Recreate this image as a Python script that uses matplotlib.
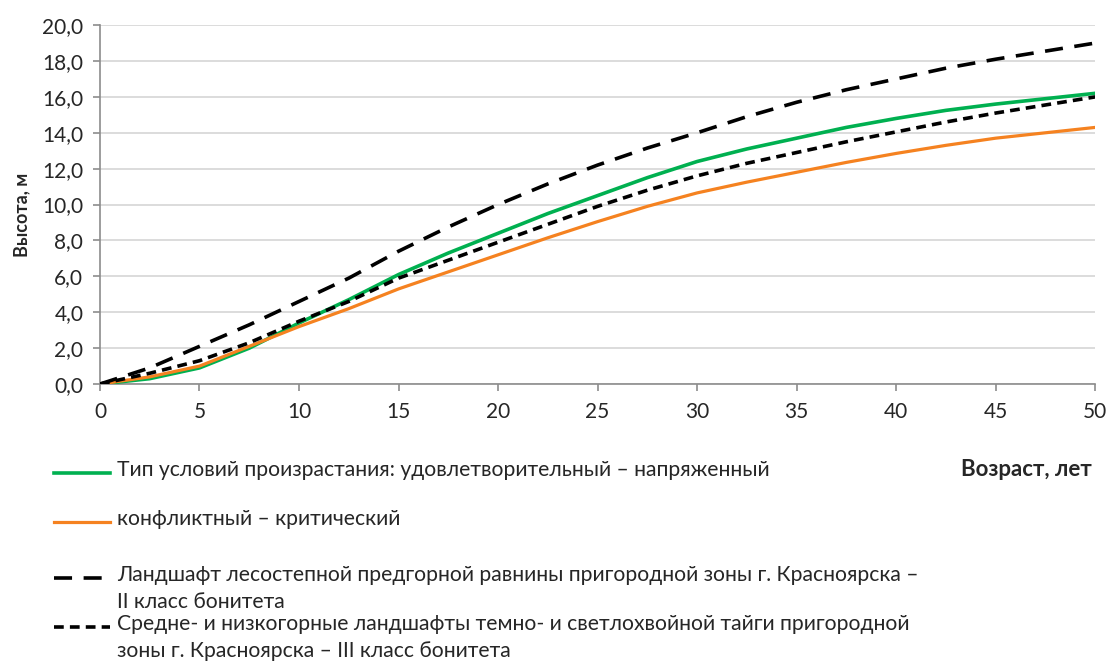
import matplotlib.pyplot as plt
from matplotlib.lines import Line2D
from matplotlib.ticker import FuncFormatter, MultipleLocator

plt.rcParams['font.family'] = ['Lato', 'DejaVu Sans']

# возраст, лет
age = [0, 2.5, 5, 7.5, 10, 12.5, 15, 17.5, 20, 22.5, 25, 27.5, 30,
       32.5, 35, 37.5, 40, 42.5, 45, 47.5, 50]

# высота, м
h_green = [0, 0.3, 0.9, 2.0, 3.4, 4.7, 6.1, 7.3, 8.4, 9.5, 10.5, 11.5, 12.4,
           13.1, 13.7, 14.3, 14.8, 15.25, 15.6, 15.9, 16.2]
h_orange = [0, 0.4, 1.0, 2.1, 3.2, 4.2, 5.3, 6.25, 7.2, 8.15, 9.05, 9.9, 10.65,
            11.25, 11.8, 12.35, 12.85, 13.3, 13.7, 14.0, 14.3]
h_class2 = [0, 0.9, 2.1, 3.3, 4.6, 5.9, 7.4, 8.75, 10.0, 11.15, 12.2, 13.15, 14.0,
            14.9, 15.7, 16.4, 17.0, 17.6, 18.1, 18.55, 19.0]
h_class3 = [0, 0.6, 1.3, 2.3, 3.5, 4.6, 5.9, 6.9, 7.9, 8.9, 9.9, 10.8, 11.6,
            12.3, 12.9, 13.5, 14.05, 14.6, 15.1, 15.55, 16.0]

labels = [
    'Тип условий произрастания: удовлетворительный – напряженный',
    'конфликтный – критический',
    'Ландшафт лесостепной предгорной равнины пригородной зоны г. Красноярска –\nII класс бонитета',
    'Средне- и низкогорные ландшафты темно- и светлохвойной тайги пригородной\nзоны г. Красноярска – III класс бонитета',
]

green = '#00B050'
orange = '#F58220'
txt = '#262626'

fig = plt.figure(figsize=(11.07, 6.61), dpi=100)
ax = fig.add_axes([0.0903, 0.419, 0.899, 0.543])

ax.plot(age, h_green, color=green, lw=2.6, zorder=3)
ax.plot(age, h_orange, color=orange, lw=2.3, zorder=3)
ax.plot(age, h_class2, color='black', lw=2.6, dashes=(5, 3.2), zorder=4)
ax.plot(age, h_class3, color='black', lw=2.6, dashes=(2.7, 1.7), zorder=4)

ax.set_xlim(0, 50)
ax.set_ylim(0, 20)
ax.xaxis.set_major_locator(MultipleLocator(5))
ax.yaxis.set_major_locator(MultipleLocator(2))
ax.yaxis.set_major_formatter(FuncFormatter(lambda v, p: f'{v:.1f}'.replace('.', ',')))
ax.grid(axis='y', color='#DCDCDC', lw=1.4)
ax.set_axisbelow(True)
for s in ['top', 'right']:
    ax.spines[s].set_visible(False)
for s in ['left', 'bottom']:
    ax.spines[s].set_color('#8C8C8C')
    ax.spines[s].set_linewidth(1.2)
ax.tick_params(direction='out', length=5, width=1.2, color='#8C8C8C',
               labelsize=15, labelcolor=txt)
ax.tick_params(axis='y', pad=7)
ax.tick_params(axis='x', pad=8)

ax.set_ylabel('Высота, м', fontsize=13, fontweight='bold', color=txt)
ax.yaxis.set_label_coords(-0.07, 0.47)
fig.text(0.986, 0.289, 'Возраст, лет', fontsize=16, fontweight='bold',
         color=txt, ha='right', va='center')

# легенда
W, H = fig.get_size_inches() * fig.dpi
rows = [473, 522, 578, 627]
styles = [dict(color=green, lw=2.6), dict(color=orange, lw=2.3),
          dict(color='black', lw=2.6, dashes=(5, 3.2)),
          dict(color='black', lw=2.6, dashes=(2.7, 1.7))]
for yp, st, lab in zip(rows, styles, labels):
    fy = 1 - yp / H
    fig.add_artist(Line2D([54 / W, 110 / W], [fy, fy], transform=fig.transFigure, **st))
    fig.text(117 / W, fy + 13 / H, lab, fontsize=15.2, color=txt, ha='left', va='top',
             linespacing=1.45, transform=fig.transFigure)

fig.savefig('out.png', dpi=100)
